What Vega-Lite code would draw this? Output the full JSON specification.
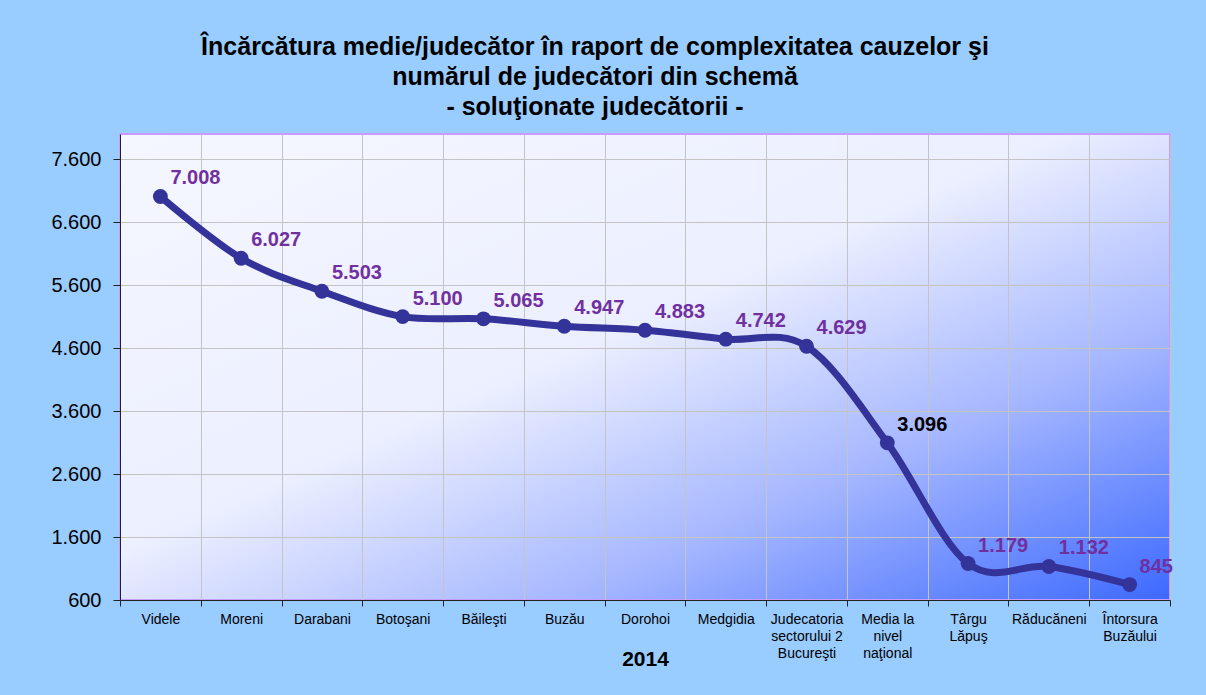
{
  "$schema": "https://vega.github.io/schema/vega-lite/v6.json",
  "autosize": {"type": "none"},
  "padding": {"left": 120, "top": 134, "right": 36, "bottom": 95},
  "width": 1050,
  "height": 466,
  "background": "#99CCFF",
  "title": {
    "text": ["Încărcătura medie/judecător în raport de complexitatea cauzelor şi", "numărul de judecători din schemă", "-  soluţionate judecătorii -"],
    "font": "Liberation Sans",
    "fontSize": 25,
    "fontWeight": "bold",
    "color": "#000000",
    "lineHeight": 30,
    "anchor": "middle",
    "dx": -50,
    "offset": 14
  },
  "config": {
    "locale": {"number": {"decimal": ",", "thousands": ".", "grouping": [3], "currency": ["", ""]}},
    "view": {
      "stroke": "#C99BFF",
      "strokeWidth": 2,
      "fill": {
        "gradient": "linear",
        "x1": 0, "y1": 0, "x2": 1, "y2": 1,
        "stops": [
          {"offset": 0, "color": "#F5F7FF"},
          {"offset": 0.45, "color": "#ECEFFF"},
          {"offset": 0.72, "color": "#A3B5FF"},
          {"offset": 1, "color": "#3C69FF"}
        ]
      }
    },
    "axis": {"labelFont": "Liberation Sans", "titleFont": "Liberation Sans", "labelColor": "#000000", "titleColor": "#000000", "gridColor": "#C4C4C4", "gridWidth": 1, "domainColor": "#222222", "tickColor": "#222222"}
  },
  "data": {
    "values": [
      {"instanta": "Videle", "valoare": 7008},
      {"instanta": "Moreni", "valoare": 6027},
      {"instanta": "Darabani", "valoare": 5503},
      {"instanta": "Botoşani", "valoare": 5100},
      {"instanta": "Băileşti", "valoare": 5065},
      {"instanta": "Buzău", "valoare": 4947},
      {"instanta": "Dorohoi", "valoare": 4883},
      {"instanta": "Medgidia", "valoare": 4742},
      {"instanta": "Judecatoria\nsectorului 2\nBucureşti", "valoare": 4629},
      {"instanta": "Media la\nnivel\nnaţional", "valoare": 3096},
      {"instanta": "Târgu\nLăpuş", "valoare": 1179},
      {"instanta": "Răducăneni", "valoare": 1132},
      {"instanta": "Întorsura\nBuzăului", "valoare": 845}
    ]
  },
  "encoding": {
    "x": {
      "field": "instanta",
      "type": "nominal",
      "sort": null,
      "scale": {"paddingInner": 0, "paddingOuter": 0},
      "axis": {
        "title": "2014",
        "titleFontSize": 21,
        "titleFontWeight": "bold",
        "titlePadding": -12,
        "labelAngle": 0,
        "labelFontSize": 14,
        "labelExpr": "isValid(datum.value) ? split(datum.value, '\\n') : ''",
        "labelLineHeight": 17,
        "labelPadding": 6,
        "tickBand": "extent",
        "tickSize": 6,
        "grid": true
      }
    },
    "y": {
      "field": "valoare",
      "type": "quantitative",
      "scale": {"domain": [600, 8000], "nice": false, "zero": false},
      "axis": {
        "title": null,
        "values": [600, 1600, 2600, 3600, 4600, 5600, 6600, 7600],
        "format": ",d",
        "labelFontSize": 20,
        "labelPadding": 12,
        "tickSize": 7,
        "grid": true
      }
    }
  },
  "layer": [
    {
      "mark": {"type": "line", "interpolate": "cardinal", "color": "#333399", "strokeWidth": 7, "strokeCap": "round"}
    },
    {
      "mark": {"type": "point", "filled": true, "color": "#333399", "size": 220, "opacity": 1}
    },
    {
      "mark": {"type": "text", "align": "left", "baseline": "middle", "dx": 10, "dy": -18, "font": "Liberation Sans", "fontSize": 20, "fontWeight": "bold"},
      "encoding": {
        "text": {"field": "valoare", "type": "quantitative", "format": ",d"},
        "color": {
          "condition": {"test": "datum.valoare === 3096", "value": "#000000"},
          "value": "#7030A0"
        }
      }
    }
  ]
}
